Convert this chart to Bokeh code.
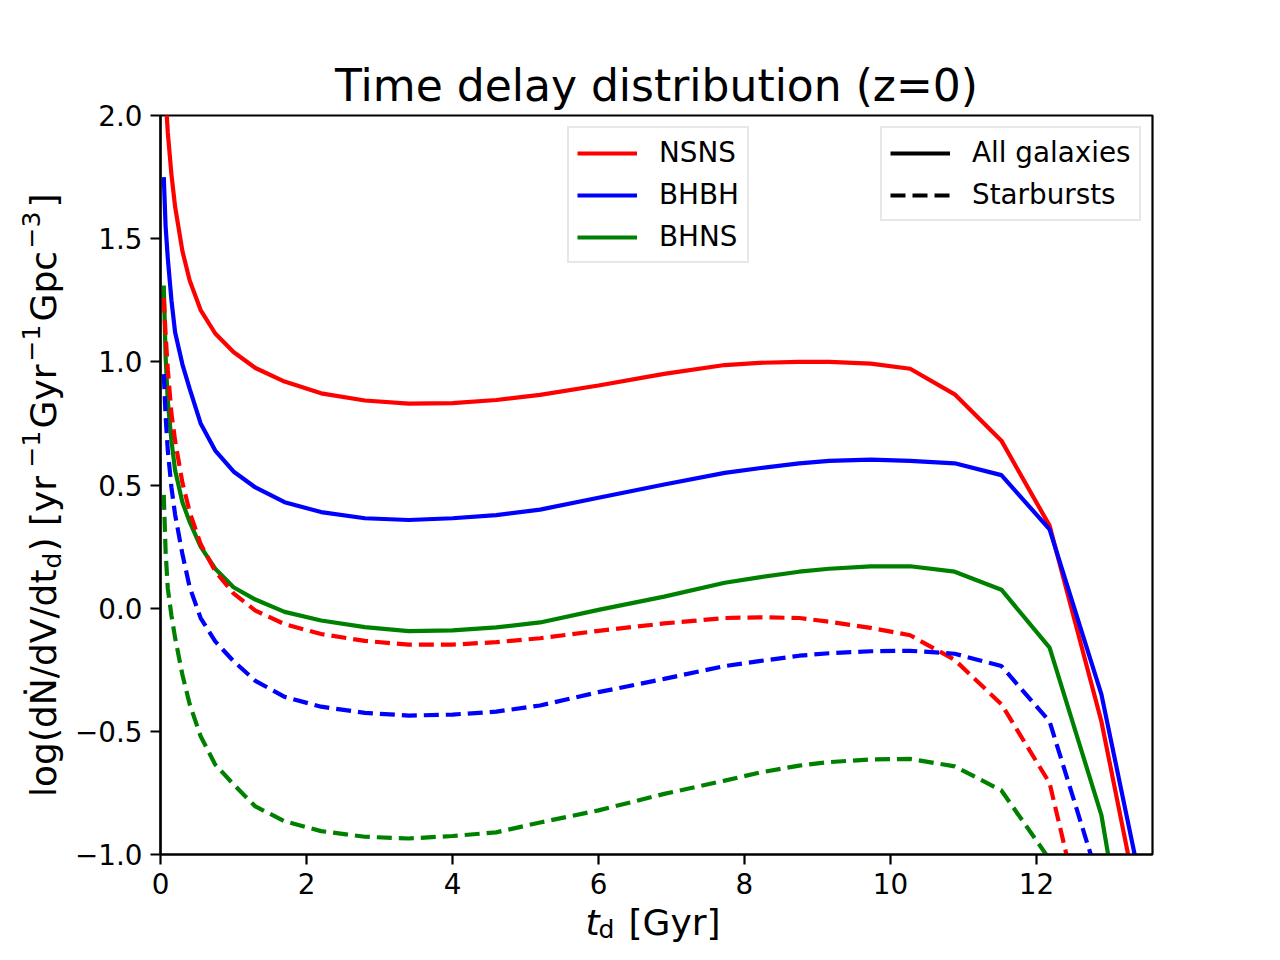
import math
from bokeh.plotting import figure
from bokeh.models import Range1d, FixedTicker, Legend, LegendItem, Label
from bokeh.layouts import row, column
from bokeh.embed import file_html
from bokeh.resources import INLINE

# ---------------- data ----------------
t_d = [0.045, 0.07, 0.1, 0.15, 0.2, 0.3, 0.4, 0.55, 0.75, 1.0, 1.3, 1.7, 2.2, 2.8,
       3.4, 4.0, 4.6, 5.2, 6.0, 6.9, 7.73, 8.2, 8.75, 9.16, 9.73, 10.27, 10.88,
       11.52, 12.18, 12.89, 13.5]

nsns_all = [2.30, 2.08, 1.93, 1.76, 1.63, 1.45, 1.33, 1.21, 1.115, 1.04, 0.975,
            0.92, 0.872, 0.843, 0.830, 0.832, 0.845, 0.866, 0.904, 0.951, 0.987,
            0.996, 1.000, 1.000, 0.993, 0.972, 0.868, 0.680, 0.335, -0.460, -1.36]
bhbh_all = [1.75, 1.55, 1.42, 1.25, 1.12, 0.99, 0.89, 0.75, 0.64, 0.555, 0.49,
            0.43, 0.39, 0.365, 0.358, 0.365, 0.378, 0.400, 0.448, 0.502, 0.549,
            0.568, 0.588, 0.598, 0.603, 0.598, 0.588, 0.540, 0.320, -0.350, -1.22]
bhns_all = [1.31, 1.02, 0.84, 0.68, 0.56, 0.43, 0.35, 0.25, 0.16, 0.085, 0.035,
            -0.015, -0.05, -0.077, -0.093, -0.090, -0.078, -0.058, -0.007, 0.047,
            0.103, 0.125, 0.148, 0.160, 0.170, 0.170, 0.148, 0.075, -0.160, -0.840, -1.90]

nsns_sb = [1.26, 1.11, 0.97, 0.79, 0.68, 0.51, 0.39, 0.26, 0.15, 0.06, -0.01,
           -0.065, -0.105, -0.133, -0.148, -0.148, -0.138, -0.122, -0.092, -0.062,
           -0.040, -0.037, -0.040, -0.055, -0.080, -0.110, -0.210, -0.390, -0.710,
           -1.60, -2.80]
bhbh_sb = [0.95, 0.78, 0.64, 0.49, 0.38, 0.22, 0.085, -0.04, -0.135, -0.215, -0.295,
           -0.36, -0.40, -0.425, -0.436, -0.432, -0.420, -0.395, -0.341, -0.287,
           -0.235, -0.215, -0.193, -0.183, -0.175, -0.173, -0.185, -0.235, -0.460,
           -1.14, -2.50]
bhns_sb = [0.46, 0.23, 0.08, -0.03, -0.12, -0.27, -0.39, -0.52, -0.635, -0.715,
           -0.805, -0.865, -0.905, -0.928, -0.935, -0.925, -0.910, -0.870, -0.821,
           -0.754, -0.700, -0.668, -0.639, -0.625, -0.614, -0.612, -0.642, -0.740,
           -1.02, -1.80, -3.00]

pop_names = ["NSNS", "BHBH", "BHNS"]
pop_colors = ["#ff0000", "#0000ff", "#008000"]
style_names = ["All galaxies", "Starbursts"]

x_ticks = [0, 2, 4, 6, 8, 10, 12]
x_tick_labels = ["0", "2", "4", "6", "8", "10", "12"]
y_ticks = [-1.0, -0.5, 0.0, 0.5, 1.0, 1.5, 2.0]
y_tick_labels = ["\u22121.0", "\u22120.5", "0.0", "0.5", "1.0", "1.5", "2.0"]

title_text = "Time delay distribution (z=0)"

FONT = "DejaVu Sans"
LW = 4.2
DASH = "15 7"
AXFS = 36            # axis-label font size (px)
SUBFS = 25           # sub/superscript font size (px)

# ---------------- layout sizes ----------------
TOTAL_W, TOTAL_H = 1264, 944
YLAB_W = 72          # strip that holds the y-axis label
XLAB_H = 44          # strip that holds the x-axis label
MAIN_W = TOTAL_W - YLAB_W
MAIN_H = TOTAL_H - XLAB_H
FRAME_TOP, FRAME_BOTTOM = 115, 854

# ---------------- main figure ----------------
p = figure(width=MAIN_W, height=MAIN_H,
           min_border_left=160 - YLAB_W, min_border_right=MAIN_W - (160 - YLAB_W) - 992,
           min_border_top=FRAME_TOP, min_border_bottom=MAIN_H - FRAME_BOTTOM,
           x_range=Range1d(0, 13.59), y_range=Range1d(-1.0, 2.0),
           output_backend="svg", toolbar_location=None,
           background_fill_color="white", border_fill_color="white")

p.title.text = title_text
p.title.align = "center"
p.title.text_font = FONT
p.title.text_font_size = "44px"
p.title.text_font_style = "normal"
p.title.text_color = "black"
p.title.standoff = 10

p.xgrid.visible = False
p.ygrid.visible = False
p.outline_line_color = "black"
p.outline_line_width = 2.2
p.outline_line_alpha = 1.0

p.xaxis.ticker = FixedTicker(ticks=x_ticks)
p.yaxis.ticker = FixedTicker(ticks=y_ticks)
p.xaxis.major_label_overrides = {t: s for t, s in zip(x_ticks, x_tick_labels)}
p.yaxis.major_label_overrides = {t: s for t, s in zip(y_ticks, y_tick_labels)}
for ax in (p.xaxis, p.yaxis):
    ax.major_tick_out = 10
    ax.major_tick_in = 0
    ax.minor_tick_out = 0
    ax.minor_tick_in = 0
    ax.major_tick_line_width = 2.2
    ax.major_tick_line_color = "black"
    ax.axis_line_width = 2.2
    ax.axis_line_color = "black"
    ax.major_label_text_font = FONT
    ax.major_label_text_font_size = "27.8px"
    ax.major_label_text_color = "black"
    ax.major_label_standoff = 8
p.xaxis.major_label_text_line_height = 1.0

# ---------------- curves ----------------
all_series = [nsns_all, bhbh_all, bhns_all]
sb_series = [nsns_sb, bhbh_sb, bhns_sb]
pop_renderers = []
for vals, col in zip(all_series, pop_colors):
    r = p.line(t_d, vals, line_color=col, line_width=LW)
    pop_renderers.append(r)
for vals, col in zip(sb_series, pop_colors):
    p.line(t_d, vals, line_color=col, line_width=LW, line_dash=DASH)

# proxy renderers (no visible data) for the line-style legend
nan = float("nan")
solid_proxy = p.line(x=[nan], y=[nan], line_color="black", line_width=LW)
dash_proxy = p.line(x=[nan], y=[nan], line_color="black", line_width=LW, line_dash=DASH)


def style_legend(lg):
    lg.label_text_font = FONT
    lg.label_text_font_size = "27.8px"
    lg.label_text_color = "black"
    lg.label_height = 32
    lg.glyph_height = 32
    lg.glyph_width = 60
    lg.label_standoff = 22
    lg.spacing = 9
    lg.padding = 8
    lg.margin = 0
    lg.border_line_color = "#d0d0d0"
    lg.border_line_width = 2.2
    lg.background_fill_color = "white"
    lg.background_fill_alpha = 0.8


leg1 = Legend(items=[LegendItem(label=n, renderers=[r]) for n, r in zip(pop_names, pop_renderers)],
              location=(407, 591))
leg2 = Legend(items=[LegendItem(label=style_names[0], renderers=[solid_proxy]),
                     LegendItem(label=style_names[1], renderers=[dash_proxy])],
              location=(720, 633))
style_legend(leg1)
style_legend(leg2)
p.add_layout(leg1)
p.add_layout(leg2)


# ---------------- axis-label strips ----------------
def strip(w, h, y_range):
    f = figure(width=w, height=h, x_range=Range1d(0, w), y_range=y_range,
               x_axis_type=None, y_axis_type=None, min_border=0,
               output_backend="svg", toolbar_location=None,
               background_fill_color="white", border_fill_color="white")
    f.title = None
    f.outline_line_color = None
    return f


def lab(fig, text, x, y, size, align="left", angle=0.0, style="normal"):
    fig.add_layout(Label(x=x, y=y, text=text, text_font=FONT,
                         text_font_size=f"{size}px", text_font_style=style,
                         text_color="black", text_align=align,
                         text_baseline="alphabetic", angle=angle))


# y label: log(dN'/dV/dt_d) [yr^-1 Gyr^-1 Gpc^-3]   (pieces along the axis)
# the strip's frame is aligned with the main frame, so its y range runs in page pixels
ylab = strip(YLAB_W, MAIN_H, Range1d(FRAME_BOTTOM, FRAME_TOP))
ang = math.pi / 2
BX, SUBX, SUPX = 43, 52, 30
ylab_pieces = [
    ("log(d\u1e44/dV/dt", BX, 569, AXFS, "right"),
    ("d", SUBX, 568, SUBFS, "left"),
    (") [yr", BX, 551, AXFS, "left"),
    ("\u22121", SUPX, 467, SUBFS, "left"),
    ("Gyr", BX, 428, AXFS, "left"),
    ("\u22121", SUPX, 361, SUBFS, "left"),
    ("Gpc", BX, 321, AXFS, "left"),
    ("\u22123", SUPX, 248, SUBFS, "left"),
    ("]", BX, 207, AXFS, "left"),
]
for text, x, ypage, size, align in ylab_pieces:
    lab(ylab, text, x, ypage, size, align=align, angle=ang)

# x label: t_d [Gyr]   (strip's y range also in page pixels: bottom 944, top 900)
xlab = strip(TOTAL_W, XLAB_H, Range1d(TOTAL_H, TOTAL_H - XLAB_H))
lab(xlab, "t", 585, 922, AXFS, style="italic")
lab(xlab, "d", 598, 929, SUBFS)
lab(xlab, "[Gyr]", 628, 922, AXFS)

layout = column(row(ylab, p, spacing=0), xlab, spacing=0)

open("out.html", "w").write(file_html(layout, INLINE))
